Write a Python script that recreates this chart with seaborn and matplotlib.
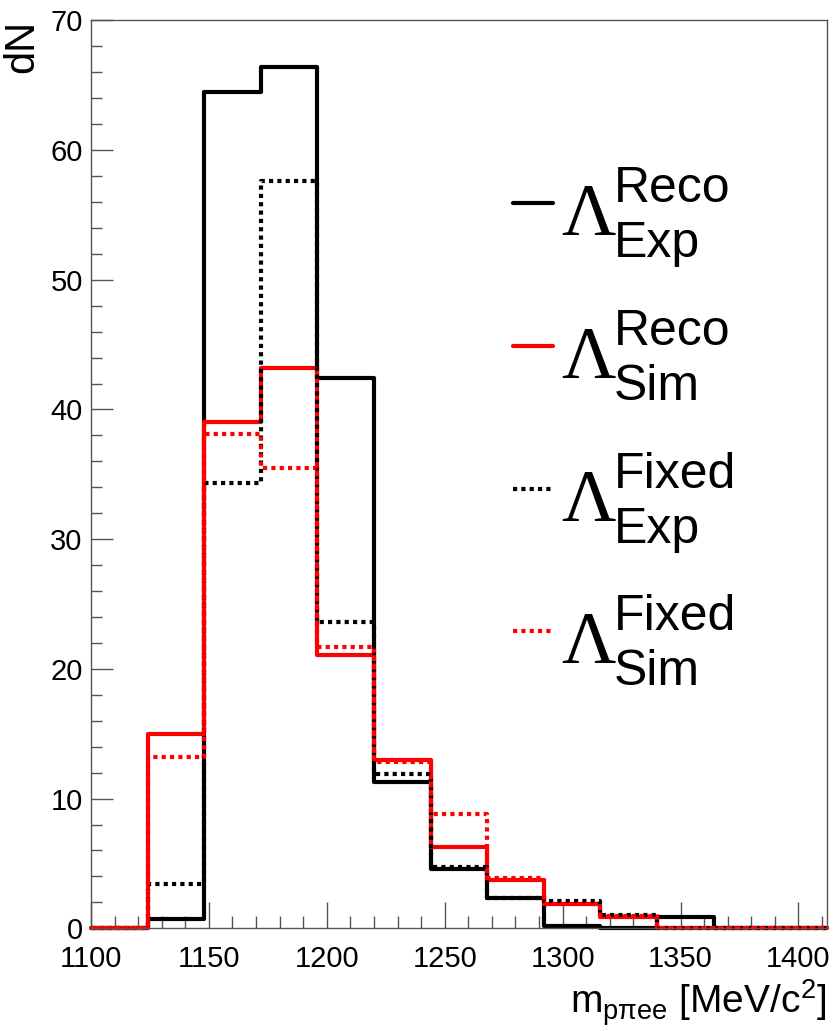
import numpy as np
import pandas as pd
import matplotlib
matplotlib.use("Agg")
import matplotlib.pyplot as plt
from matplotlib.ticker import MultipleLocator
import seaborn as sns

# Binning of the p pi e e invariant mass (MeV/c^2)
bin_edges = [1100, 1124, 1148, 1172, 1196, 1220, 1244, 1268,
             1292, 1316, 1340, 1364, 1388, 1412]

# Counts per bin
reco_exp = [0, 0.7, 64.5, 66.4, 42.4, 11.3, 4.6, 2.3, 0.15, 0.05, 0.9, 0, 0]
reco_sim = [0, 15.0, 39.0, 43.2, 21.1, 13.0, 6.3, 3.7, 1.9, 0.85, 0, 0, 0]
fixed_exp = [0, 3.4, 34.3, 57.6, 23.6, 11.9, 4.7, 2.3, 2.1, 1.0, 0, 0, 0]
fixed_sim = [0, 13.2, 38.1, 35.5, 21.7, 12.8, 8.8, 3.9, 1.9, 0.95, 0, 0, 0]

# Legend text: method (superscript) and sample (subscript)
legend_methods = ["Reco", "Reco", "Fixed", "Fixed"]
legend_samples = ["Exp", "Sim", "Exp", "Sim"]

sns.set_style("white")
plt.rcParams["font.family"] = ["Liberation Sans", "DejaVu Sans"]
plt.rcParams["mathtext.fontset"] = "custom"
plt.rcParams["mathtext.rm"] = "Liberation Sans"
plt.rcParams["mathtext.sf"] = "Liberation Sans"
plt.rcParams["mathtext.it"] = "Liberation Sans"
plt.rcParams["text.color"] = "black"
plt.rcParams["axes.labelcolor"] = "black"

W, H = 833, 1031
fig = plt.figure(figsize=(W / 100, H / 100), dpi=100)
ax_l, ax_r, ax_t, ax_b = 91, 826.7, 20.3, 928.3
ax = fig.add_axes([ax_l / W, 1 - ax_b / H, (ax_r - ax_l) / W, (ax_b - ax_t) / H])

centers = [0.5 * (a + b) for a, b in zip(bin_edges[:-1], bin_edges[1:])]

dotted = (0, (1, 1))
styles = [
    (reco_exp, "black", "-"),
    (reco_sim, "red", "-"),
    (fixed_exp, "black", dotted),
    (fixed_sim, "red", dotted),
]
lw = 3.0
for values, color, ls in styles:
    df = pd.DataFrame({"mass": centers, "count": values})
    sns.histplot(data=df, x="mass", weights="count", bins=bin_edges,
                 element="step", fill=False, color=color, linestyle=ls,
                 linewidth=lw, clip_on=False, ax=ax)

ax.set_xlim(1100, 1412)
ax.set_ylim(0, 70)

frame_color = "#555555"
for side in ["left", "right", "top", "bottom"]:
    ax.spines[side].set_visible(True)
    ax.spines[side].set_color(frame_color)
    ax.spines[side].set_linewidth(1.0)

ax.xaxis.set_major_locator(MultipleLocator(50))
ax.xaxis.set_minor_locator(MultipleLocator(10))
ax.yaxis.set_major_locator(MultipleLocator(10))
ax.yaxis.set_minor_locator(MultipleLocator(2))
ax.tick_params(axis="both", which="both", direction="in", color=frame_color,
               width=1.0, bottom=True, left=True, top=False, right=False,
               labelsize=21, labelcolor="black")
ax.tick_params(axis="x", which="major", length=18.5, pad=12)
ax.tick_params(axis="x", which="minor", length=9)
ax.tick_params(axis="y", which="major", length=15.6, pad=6)
ax.tick_params(axis="y", which="minor", length=7.7)

ax.set_xlabel(r"m$_{\mathsf{p}\pi\mathsf{ee}}$ [MeV/c$^{\mathsf{2}}$]",
              fontsize=28, loc="right", labelpad=3)
ax.set_ylabel("dN", fontsize=30, loc="top", labelpad=6)


# Legend drawn in axes coordinates: line sample, Lambda, super/subscript
def ax_x(px):
    return (px - ax_l) / (ax_r - ax_l)


def ax_y(py):
    return (ax_b - py) / (ax_b - ax_t)


entry_y = [203, 346, 489, 631]
for (values, color, ls), yl, meth, samp in zip(styles, entry_y,
                                                legend_methods, legend_samples):
    ax.plot([ax_x(513), ax_x(553)], [ax_y(yl), ax_y(yl)], color=color,
            linestyle=ls, linewidth=lw, transform=ax.transAxes, clip_on=False)
    ax.text(ax_x(561), ax_y(yl + 32), "\u039b", family="Liberation Serif",
            fontsize=54, ha="left", va="baseline", transform=ax.transAxes)
    ax.text(ax_x(614), ax_y(yl - 1), meth, fontsize=36, ha="left",
            va="baseline", transform=ax.transAxes)
    ax.text(ax_x(614), ax_y(yl + 54), samp, fontsize=36, ha="left",
            va="baseline", transform=ax.transAxes)

fig.savefig("out.png", dpi=100)
